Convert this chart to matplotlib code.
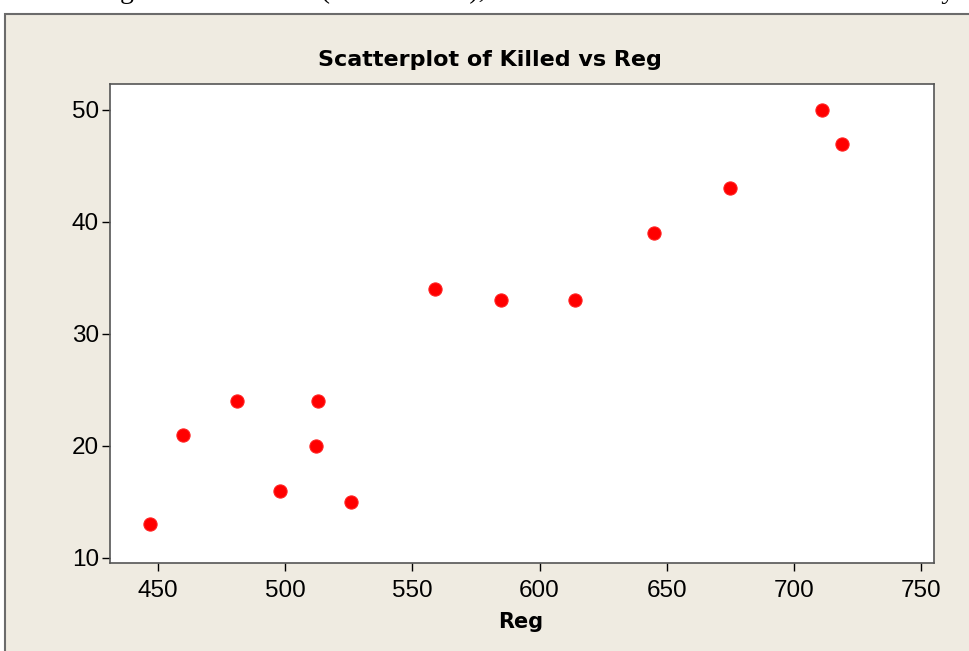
import matplotlib
matplotlib.use("Agg")
import matplotlib.pyplot as plt
from matplotlib.patches import Rectangle

# 데이터: 보트 등록 수(천 대)와 희생된 매너티 수
reg = [447, 460, 481, 498, 513, 512, 526, 559, 585, 614, 645, 675, 711, 719]
killed = [13, 21, 24, 16, 24, 20, 15, 34, 33, 33, 39, 43, 50, 47]
xticks = [450, 500, 550, 600, 650, 700, 750]
yticks = [10, 20, 30, 40, 50]

W, H = 969, 651
fig = plt.figure(figsize=(W / 100, H / 100), dpi=100)
fig.patch.set_facecolor("white")

# 위쪽에 잘린 본문 텍스트 (원본처럼 아랫부분만 보임)
fig.text(120 / W, 1 + 2 / H, "g State of Florida (in thousands), and the number of manatees killed each year",
         family="Liberation Serif", fontsize=20, va="baseline", ha="left", color="black")

# 베이지색 그래프 영역 배경
bg = Rectangle((5 / W, -0.05), 1.1, 1 - 14 / H + 0.05, transform=fig.transFigure,
               facecolor="#efebe1", edgecolor="#6b6b6b", linewidth=1.5, zorder=0)
fig.patches.append(bg)

ax = fig.add_axes([110 / W, 1 - 563 / H, (934 - 110) / W, (563 - 84) / H])
ax.set_zorder(2)
ax.set_facecolor("white")
ax.scatter(reg, killed, s=90, facecolor="#ff0000", edgecolor="#ff2020", linewidth=0.8, zorder=3)

ax.set_xlim(431.1, 755.1)
ax.set_ylim(9.55, 52.32)
ax.set_xticks(xticks)
ax.set_yticks(yticks)
ax.tick_params(direction="out", length=6, width=1, colors="black")
ax.tick_params(axis="y", pad=2)
ax.tick_params(axis="x", pad=6)
for lab in ax.get_xticklabels() + ax.get_yticklabels():
    lab.set_family("Liberation Sans")
    lab.set_fontsize(17.5)
for sp in ax.spines.values():
    sp.set_color("#555555")
    sp.set_linewidth(1.2)

fig.text(490 / W, 1 - 60 / H, "Scatterplot of Killed vs Reg", fontsize=16, fontweight="bold",
         ha="center", va="center", zorder=3)
fig.text(521 / W, 1 - 622 / H, "Reg", fontsize=15, fontweight="bold", ha="center", va="center",
         zorder=3)

fig.savefig("out.png", dpi=100)
